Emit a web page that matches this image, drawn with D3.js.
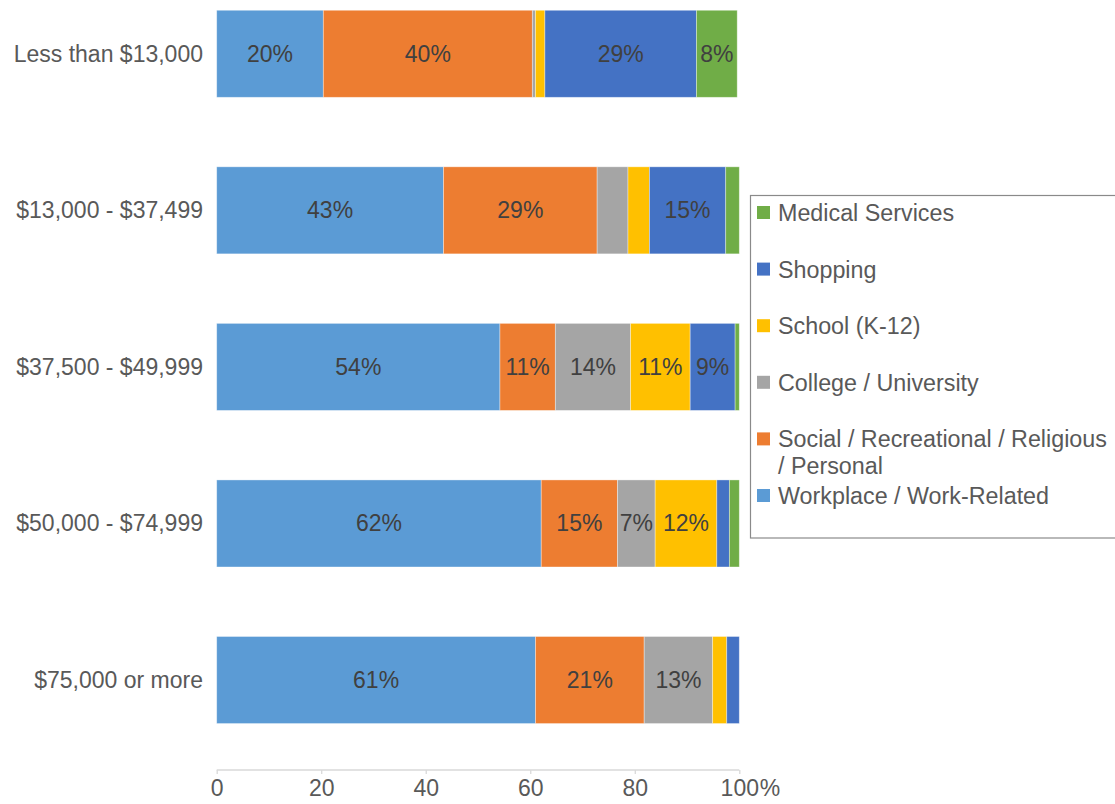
<!DOCTYPE html>
<html>
<head>
<meta charset="utf-8">
<script src="https://cdn.jsdelivr.net/npm/d3@7"></script>
<style>
  html, body { margin: 0; padding: 0; background: #fff; }
  svg { display: block; font-family: "Liberation Sans", Arial, sans-serif; }
</style>
</head>
<body>
<svg id="chart" width="1115" height="804"></svg>
<script>
// Household income groups (one bar each, top to bottom)
const categories = [
  "Less than $13,000",
  "$13,000 - $37,499",
  "$37,500 - $49,999",
  "$50,000 - $74,999",
  "$75,000 or more"
];

// Trip purpose shares (%), stacked left to right in this order
const seriesNames = [
  "Workplace / Work-Related",
  "Social / Recreational / Religious / Personal",
  "College / University",
  "School (K-12)",
  "Shopping",
  "Medical Services"
];
const workplace = [20.4, 43.4, 54.2, 62.1, 61.0];
const social    = [40.0, 29.4, 10.6, 14.6, 20.8];
const college   = [0.6, 5.9, 14.4, 7.2, 13.1];
const school    = [1.8, 4.1, 11.4, 11.8, 2.7];
const shopping  = [29.0, 14.6, 8.6, 2.4, 2.4];
const medical   = [7.8, 2.6, 0.8, 1.9, 0.0];

// Legend text lines for each series (same order as seriesNames)
const legendLines = [
  ["Workplace / Work-Related"],
  ["Social / Recreational / Religious", "/ Personal"],
  ["College / University"],
  ["School (K-12)"],
  ["Shopping"],
  ["Medical Services"]
];

const seriesColors = ["#5B9BD5", "#ED7D31", "#A5A5A5", "#FFC000", "#4472C4", "#70AD47"];
const xTicks = [0, 20, 40, 60, 80, 100];

// Build a row table for d3.stack
const seriesValues = [workplace, social, college, school, shopping, medical];
const rows = categories.map((c, i) => {
  const r = { category: c };
  seriesNames.forEach((s, j) => { r[s] = seriesValues[j][i]; });
  return r;
});

const svg = d3.select("#chart");
const font = "Liberation Sans, Arial, sans-serif";
const fs = 23;
const legendFs = 23.3;

const x = d3.scaleLinear().domain([0, 100]).range([216.7, 739.3]);
const y = d3.scaleBand()
  .domain(categories)
  .range([-24.5, 758.3])
  .paddingInner(0.444)
  .paddingOuter(0.222);

const stacked = d3.stack().keys(seriesNames)(rows);
const color = d3.scaleOrdinal().domain(seriesNames).range(seriesColors);

// Bars
const layers = svg.append("g").selectAll("g")
  .data(stacked)
  .join("g")
  .attr("fill", d => color(d.key));

layers.selectAll("rect")
  .data(d => d.map(p => ({ key: d.key, p })))
  .join("rect")
  .attr("x", d => x(d.p[0]))
  .attr("y", d => y(d.p.data.category))
  .attr("width", d => Math.max(0, x(d.p[1]) - x(d.p[0])))
  .attr("height", y.bandwidth())
  .attr("stroke", "#fff")
  .attr("stroke-opacity", 0.45)
  .attr("stroke-width", 0.8);

// Value labels inside segments large enough to hold them
layers.selectAll("text")
  .data(d => d.map(p => ({ key: d.key, p, v: p[1] - p[0] })).filter(o => o.v >= 6.5))
  .join("text")
  .attr("x", d => (x(d.p[0]) + x(d.p[1])) / 2)
  .attr("y", d => y(d.p.data.category) + y.bandwidth() / 2 + 8)
  .attr("text-anchor", "middle")
  .attr("font-family", font)
  .attr("font-size", fs)
  .attr("fill", "#404040")
  .text(d => Math.round(d.v) + "%");

// Category labels
svg.append("g").selectAll("text")
  .data(categories)
  .join("text")
  .attr("x", 203)
  .attr("y", d => y(d) + y.bandwidth() / 2 + 8)
  .attr("text-anchor", "end")
  .attr("font-family", font)
  .attr("font-size", fs)
  .attr("fill", "#595959")
  .text(d => d);

// Horizontal axis
const axisG = svg.append("g")
  .attr("transform", "translate(0,770)")
  .call(d3.axisBottom(x).tickValues(xTicks).tickSize(4).tickPadding(6).tickFormat(d3.format("d")));
axisG.select(".domain").attr("stroke", "#d9d9d9").attr("stroke-width", 1.3)
  .attr("d", `M${x(0)},0H${x(100)}`);
axisG.selectAll(".tick line").attr("stroke", "#d9d9d9").attr("stroke-width", 1.3);
axisG.selectAll(".tick text")
  .attr("font-family", font)
  .attr("font-size", fs)
  .attr("fill", "#595959");
// Percent sign trails the last tick number
axisG.select(".tick:last-of-type").append("text")
  .attr("x", 20)
  .attr("y", 10)
  .attr("dy", "0.71em")
  .attr("text-anchor", "start")
  .attr("font-family", font)
  .attr("font-size", fs)
  .attr("fill", "#595959")
  .text("%");

// Legend (reverse of stacking order)
const legendOrder = d3.range(seriesNames.length).reverse();
const legend = svg.append("g");
legend.append("rect")
  .attr("x", 750.5).attr("y", 195.5)
  .attr("width", 400).attr("height", 342.5)
  .attr("fill", "#fff")
  .attr("stroke", "#8a8a8a")
  .attr("stroke-width", 1.2);

const legendTop = 212.5, legendStep = 56.6;
legendOrder.forEach((k, i) => {
  const cy = legendTop + i * legendStep;
  legend.append("rect")
    .attr("x", 757).attr("y", cy - 6.5)
    .attr("width", 13).attr("height", 13)
    .attr("fill", color(seriesNames[k]));
  const t = legend.append("text")
    .attr("x", 778).attr("y", cy + 8.5)
    .attr("font-family", font)
    .attr("font-size", legendFs)
    .attr("fill", "#595959");
  t.selectAll("tspan")
    .data(legendLines[k])
    .join("tspan")
    .attr("x", 778)
    .attr("dy", (d, j) => j === 0 ? 0 : 27)
    .text(d => d);
});
</script>
</body>
</html>
